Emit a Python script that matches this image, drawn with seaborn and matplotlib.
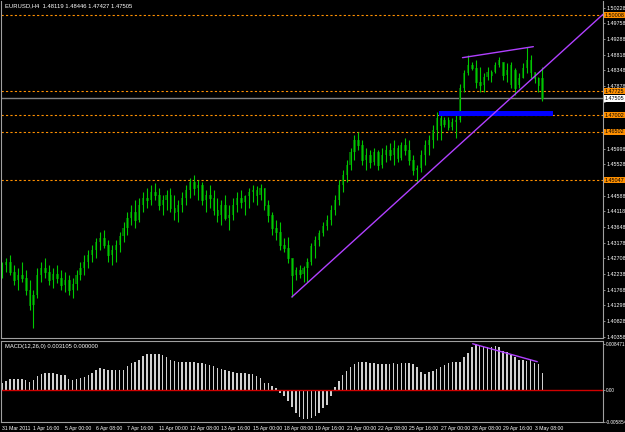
import numpy as np
import pandas as pd
import seaborn as sns
import matplotlib.pyplot as plt
from matplotlib.transforms import blended_transform_factory

# EURUSD H4 candles, 31 Mar 2011 08:00 -> 3 May 2011
opens = [
    1.4236, 1.4251, 1.4260, 1.4230, 1.4206, 1.4221, 1.4212, 1.4176, 1.4131, 1.4161,
    1.4221, 1.4242, 1.4230, 1.4206, 1.4224, 1.4212, 1.4191, 1.4206, 1.4176, 1.4194,
    1.4221, 1.4242, 1.4260, 1.4281, 1.4296, 1.4320, 1.4332, 1.4311, 1.4281, 1.4296,
    1.4311, 1.4338, 1.4362, 1.4392, 1.4410, 1.4386, 1.4431, 1.4452, 1.4446, 1.4470,
    1.4461, 1.4431, 1.4446, 1.4461, 1.4422, 1.4410, 1.4431, 1.4452, 1.4476, 1.4500,
    1.4482, 1.4491, 1.4446, 1.4461, 1.4452, 1.4416, 1.4401, 1.4431, 1.4392, 1.4401,
    1.4431, 1.4452, 1.4440, 1.4458, 1.4470, 1.4476, 1.4461, 1.4482, 1.4431, 1.4401,
    1.4362, 1.4350, 1.4311, 1.4302, 1.4272, 1.4221, 1.4236, 1.4224, 1.4242, 1.4260,
    1.4308, 1.4326, 1.4347, 1.4368, 1.4386, 1.4416, 1.4446, 1.4491, 1.4521, 1.4551,
    1.4590, 1.4626, 1.4611, 1.4566, 1.4581, 1.4560, 1.4590, 1.4551, 1.4581, 1.4596,
    1.4581, 1.4602, 1.4572, 1.4611, 1.4596, 1.4566, 1.4536, 1.4542, 1.4581, 1.4611,
    1.4626, 1.4656, 1.4692, 1.4671, 1.4686, 1.4665, 1.4680, 1.4686, 1.4782, 1.4827,
    1.4851, 1.4842, 1.4800, 1.4791, 1.4815, 1.4830, 1.4830, 1.4851, 1.4860, 1.4821,
    1.4791, 1.4836, 1.4791, 1.4812, 1.4842, 1.4866, 1.4830, 1.4812, 1.48119,
]
highs = [
    1.4260, 1.4272, 1.4281, 1.4251, 1.4242, 1.4260, 1.4236, 1.4206, 1.4176, 1.4242,
    1.4260, 1.4272, 1.4251, 1.4242, 1.4251, 1.4236, 1.4230, 1.4221, 1.4212, 1.4236,
    1.4260, 1.4281, 1.4296, 1.4311, 1.4332, 1.4350, 1.4356, 1.4326, 1.4311, 1.4326,
    1.4350, 1.4380, 1.4410, 1.4431, 1.4446, 1.4452, 1.4470, 1.4482, 1.4491, 1.4497,
    1.4482, 1.4461, 1.4476, 1.4482, 1.4461, 1.4446, 1.4470, 1.4491, 1.4512, 1.4521,
    1.4506, 1.4500, 1.4476, 1.4491, 1.4476, 1.4452, 1.4446, 1.4461, 1.4431, 1.4452,
    1.4470, 1.4476, 1.4461, 1.4482, 1.4491, 1.4488, 1.4494, 1.4482, 1.4446, 1.4410,
    1.4386, 1.4380, 1.4332, 1.4335, 1.4272, 1.4245, 1.4251, 1.4248, 1.4272, 1.4317,
    1.4338, 1.4356, 1.4380, 1.4401, 1.4431, 1.4461, 1.4506, 1.4536, 1.4566, 1.4602,
    1.4641, 1.4650, 1.4626, 1.4602, 1.4596, 1.4602, 1.4596, 1.4602, 1.4611, 1.4617,
    1.4626, 1.4611, 1.4620, 1.4632, 1.4626, 1.4581, 1.4551, 1.4596, 1.4626, 1.4641,
    1.4671, 1.4710, 1.4713, 1.4695, 1.4695, 1.4692, 1.4707, 1.4794, 1.4836, 1.4881,
    1.4860, 1.4866, 1.4845, 1.4827, 1.4845, 1.4836, 1.4860, 1.4875, 1.4860, 1.4857,
    1.4860, 1.4842, 1.4827, 1.4857, 1.4905, 1.4881, 1.4830, 1.4815, 1.48446,
]
lows = [
    1.4212, 1.4230, 1.4221, 1.4191, 1.4176, 1.4200, 1.4161, 1.4116, 1.4062, 1.4152,
    1.4200, 1.4212, 1.4191, 1.4182, 1.4197, 1.4176, 1.4170, 1.4161, 1.4152, 1.4176,
    1.4206, 1.4221, 1.4242, 1.4260, 1.4272, 1.4296, 1.4302, 1.4260, 1.4251, 1.4260,
    1.4290, 1.4320, 1.4341, 1.4371, 1.4362, 1.4380, 1.4410, 1.4422, 1.4431, 1.4446,
    1.4416, 1.4401, 1.4416, 1.4410, 1.4386, 1.4380, 1.4410, 1.4431, 1.4452, 1.4461,
    1.4446, 1.4431, 1.4410, 1.4422, 1.4401, 1.4380, 1.4371, 1.4386, 1.4356, 1.4386,
    1.4410, 1.4422, 1.4401, 1.4422, 1.4440, 1.4431, 1.4446, 1.4416, 1.4380, 1.4341,
    1.4326, 1.4296, 1.4290, 1.4257, 1.4155, 1.4206, 1.4212, 1.4200, 1.4200, 1.4251,
    1.4272, 1.4308, 1.4338, 1.4356, 1.4371, 1.4401, 1.4431, 1.4470, 1.4500, 1.4536,
    1.4566, 1.4596, 1.4551, 1.4536, 1.4542, 1.4551, 1.4536, 1.4542, 1.4560, 1.4566,
    1.4551, 1.4560, 1.4566, 1.4581, 1.4551, 1.4521, 1.4497, 1.4530, 1.4551, 1.4581,
    1.4602, 1.4626, 1.4626, 1.4665, 1.4656, 1.4656, 1.4632, 1.4680, 1.4770, 1.4821,
    1.4836, 1.4782, 1.4770, 1.4770, 1.4806, 1.4800, 1.4827, 1.4845, 1.4806, 1.4800,
    1.4782, 1.4761, 1.4782, 1.4812, 1.4827, 1.4812, 1.4797, 1.4770, 1.47427,
]
closes = [
    1.4251, 1.4260, 1.4230, 1.4206, 1.4221, 1.4212, 1.4176, 1.4131, 1.4161, 1.4221,
    1.4242, 1.4230, 1.4206, 1.4224, 1.4212, 1.4191, 1.4206, 1.4176, 1.4194, 1.4221,
    1.4242, 1.4260, 1.4281, 1.4296, 1.4320, 1.4332, 1.4311, 1.4281, 1.4296, 1.4311,
    1.4338, 1.4362, 1.4392, 1.4410, 1.4386, 1.4431, 1.4452, 1.4446, 1.4470, 1.4461,
    1.4431, 1.4446, 1.4461, 1.4422, 1.4410, 1.4431, 1.4452, 1.4476, 1.4500, 1.4482,
    1.4491, 1.4446, 1.4461, 1.4452, 1.4416, 1.4401, 1.4431, 1.4392, 1.4401, 1.4431,
    1.4452, 1.4440, 1.4458, 1.4470, 1.4476, 1.4461, 1.4482, 1.4431, 1.4401, 1.4362,
    1.4350, 1.4311, 1.4302, 1.4272, 1.4221, 1.4236, 1.4224, 1.4242, 1.4260, 1.4308,
    1.4326, 1.4347, 1.4368, 1.4386, 1.4416, 1.4446, 1.4491, 1.4521, 1.4551, 1.4590,
    1.4626, 1.4611, 1.4566, 1.4581, 1.4560, 1.4590, 1.4551, 1.4581, 1.4596, 1.4581,
    1.4602, 1.4572, 1.4611, 1.4596, 1.4566, 1.4536, 1.4542, 1.4581, 1.4611, 1.4626,
    1.4656, 1.4692, 1.4671, 1.4686, 1.4665, 1.4680, 1.4686, 1.4782, 1.4827, 1.4851,
    1.4842, 1.4800, 1.4791, 1.4815, 1.4830, 1.4821, 1.4851, 1.4866, 1.4821, 1.4836,
    1.4851, 1.4782, 1.4812, 1.4842, 1.4866, 1.4830, 1.4812, 1.4791, 1.47505,
]
macd = [
    0.0012, 0.0017, 0.0020, 0.0020, 0.0020, 0.0020, 0.0018, 0.0015, 0.0018, 0.0026,
    0.0029, 0.0031, 0.0031, 0.0031, 0.0030, 0.0028, 0.0027, 0.0020, 0.0018, 0.0020,
    0.0022, 0.0024, 0.0028, 0.0032, 0.0037, 0.0041, 0.0039, 0.0037, 0.0037, 0.0036,
    0.0036, 0.0037, 0.0044, 0.0049, 0.0051, 0.0056, 0.0063, 0.0066, 0.0067, 0.0067,
    0.0066, 0.0064, 0.0060, 0.0056, 0.0054, 0.0052, 0.0052, 0.0052, 0.0051, 0.0051,
    0.0050, 0.0049, 0.0047, 0.0046, 0.0044, 0.0041, 0.0039, 0.0037, 0.0034, 0.0033,
    0.0032, 0.0032, 0.0031, 0.0030, 0.0029, 0.0026, 0.0022, 0.0013, 0.0013, 0.0007,
    0.0003, -0.0005, -0.0012, -0.0021, -0.0031, -0.0043, -0.0049, -0.0054, -0.0054, -0.0052,
    -0.0048, -0.0043, -0.0034, -0.0028, -0.0012, 0.0006, 0.0016, 0.0028, 0.0035, 0.0042,
    0.0048, 0.0052, 0.0052, 0.0051, 0.0050, 0.0049, 0.0048, 0.0048, 0.0048, 0.0048,
    0.0049, 0.0048, 0.0049, 0.0050, 0.0049, 0.0047, 0.0042, 0.0033, 0.0029, 0.0033,
    0.0035, 0.0039, 0.0042, 0.0046, 0.0050, 0.0052, 0.0052, 0.0052, 0.0061, 0.0068,
    0.0079, 0.0085, 0.0083, 0.0079, 0.0079, 0.0079, 0.0080, 0.0079, 0.0072, 0.0069,
    0.0064, 0.0060, 0.0056, 0.0055, 0.0054, 0.0055, 0.0050, 0.0047, 0.0031,
]

date_labels = ["31 Mar 2011", "1 Apr 16:00", "5 Apr 00:00", "6 Apr 08:00", "7 Apr 16:00",
               "11 Apr 00:00", "12 Apr 08:00", "13 Apr 16:00", "15 Apr 00:00", "18 Apr 08:00",
               "19 Apr 16:00", "21 Apr 00:00", "22 Apr 08:00", "25 Apr 16:00", "27 Apr 00:00",
               "28 Apr 08:00", "29 Apr 16:00", "3 May 08:00"]
label_step = 8

levels = [1.50008, 1.47725, 1.47002, 1.46502, 1.45047]
last_price = 1.47505
price_ticks = [round(1.40358 + 0.0047 * k, 5) for k in range(22)]
macd_ticks = [-0.005854, 0.0, 0.008471]
macd_tick_labels = ["-0.005854", "0.00", "0.008471"]

# drawn objects (trend lines, zone)
trend_up = ([74, 153.5], [1.4155, 1.5003])
trend_top = ([117.6, 135.7], [1.4873, 1.4906])
macd_div = ([120.2, 136.7], [0.0085, 0.0052])
zone_x = (111.7, 140.6)
zone_y = (1.4698, 1.4713)

sns.set_theme(style="dark", rc={
    "axes.facecolor": "black",
    "figure.facecolor": "black",
    "axes.grid": False,
})
plt.rcParams["font.family"] = ["Liberation Sans", "DejaVu Sans"]

df = pd.DataFrame({"open": opens, "high": highs, "low": lows, "close": closes, "macd": macd})
df["idx"] = np.arange(len(df))
bull = df[df["close"] >= df["open"]]
bear = df[df["close"] < df["open"]]

green = "#00c800"
orange = "#ff9000"
purple = "#b040ff"
frame = "#a0a0a0"
fs = 3.9

fig = plt.figure(figsize=(6.25, 4.32), dpi=100)
ax = fig.add_axes([0.0016, 0.2176, 0.9632, 0.7801])
ax2 = fig.add_axes([0.0016, 0.0231, 0.9632, 0.1875], sharex=ax)

# candles
ax.bar(bull["idx"], bull["close"] - bull["open"], bottom=bull["open"], width=0.55,
       color="#006400", linewidth=0, zorder=2)
ax.bar(bear["idx"], bear["open"] - bear["close"], bottom=bear["close"], width=0.45,
       facecolor="black", edgecolor=green, linewidth=0.4, zorder=2)
ax.vlines(df["idx"], df["low"], df["high"], color=green, linewidth=0.8, zorder=3)

# levels
for lv in levels:
    ax.axhline(lv, color=orange, linestyle=(0, (2, 2)), linewidth=0.8, zorder=1)
ax.axhline(last_price, color="#808080", linewidth=1, zorder=1)
ax.fill_between(zone_x, zone_y[0], zone_y[1], color="#0000ff", linewidth=0, zorder=4)
ax.plot(trend_up[0], trend_up[1], color=purple, linewidth=1, zorder=5)
ax.plot(trend_top[0], trend_top[1], color=purple, linewidth=1, zorder=5)

ax.set_xlim(-0.3, 153.5)
ax.set_ylim(1.4032, 1.5043)
ax.yaxis.tick_right()
boxed = levels + [last_price]
ax.set_yticks(price_ticks)
ax.set_yticklabels(["" if min(abs(v - b) for b in boxed) < 0.0012 else f"{v:.5f}"
                    for v in price_ticks])
ax.tick_params(axis="y", colors=frame, labelcolor="white", labelsize=fs, length=1.5, width=0.6, pad=0.8)
ax.tick_params(axis="x", bottom=False, labelbottom=False)

tr = blended_transform_factory(ax.transAxes, ax.transData)
for lv in levels:
    ax.text(1.003, lv, f"{lv:.5f}", transform=tr, fontsize=fs, color="black", ha="left", va="center",
            clip_on=False, zorder=10, bbox=dict(boxstyle="square,pad=0.1", fc=orange, ec="none"))
ax.text(1.003, last_price, f"{last_price:.5f}", transform=tr, fontsize=fs, color="black", ha="left",
        va="center", clip_on=False, zorder=10, bbox=dict(boxstyle="square,pad=0.1", fc="white", ec="none"))
ax.text(0.006, 0.993, "EURUSD,H4  1.48119 1.48446 1.47427 1.47505", transform=ax.transAxes,
        fontsize=4.2, color="white", ha="left", va="top")

# MACD panel
sns.barplot(data=df, x="idx", y="macd", native_scale=True, width=0.4, color="#d0d0d0",
            saturation=1, linewidth=0, errorbar=None, ax=ax2)
ax2.axhline(0, color="#d00000", linewidth=1)
ax2.plot(macd_div[0], macd_div[1], color=purple, linewidth=1)
ax2.set_xlim(-0.3, 153.5)
ax2.set_ylim(-0.0059, 0.0090)
ax2.set_xlabel("")
ax2.set_ylabel("")
ax2.yaxis.tick_right()
ax2.set_yticks(macd_ticks)
ax2.set_yticklabels(macd_tick_labels)
ax2.tick_params(axis="y", colors=frame, labelcolor="white", labelsize=3.4, length=1.5, width=0.6, pad=0.8)
xt = [i * label_step for i in range(len(date_labels))]
ax2.set_xticks(xt)
ax2.set_xticklabels(date_labels, ha="left")
ax2.tick_params(axis="x", colors=frame, labelcolor="white", labelsize=3.7, length=2, width=0.6, pad=1)
ax2.text(0.006, 0.96, "MACD(12,26,0) 0.003105 0.000000", transform=ax2.transAxes,
         fontsize=4.2, color="white", ha="left", va="top")

for a in (ax, ax2):
    for s in a.spines.values():
        s.set_color(frame)
        s.set_linewidth(0.8)
ax.spines["top"].set_visible(False)

plt.savefig("out.png", dpi=100, facecolor="black")
plt.close()
